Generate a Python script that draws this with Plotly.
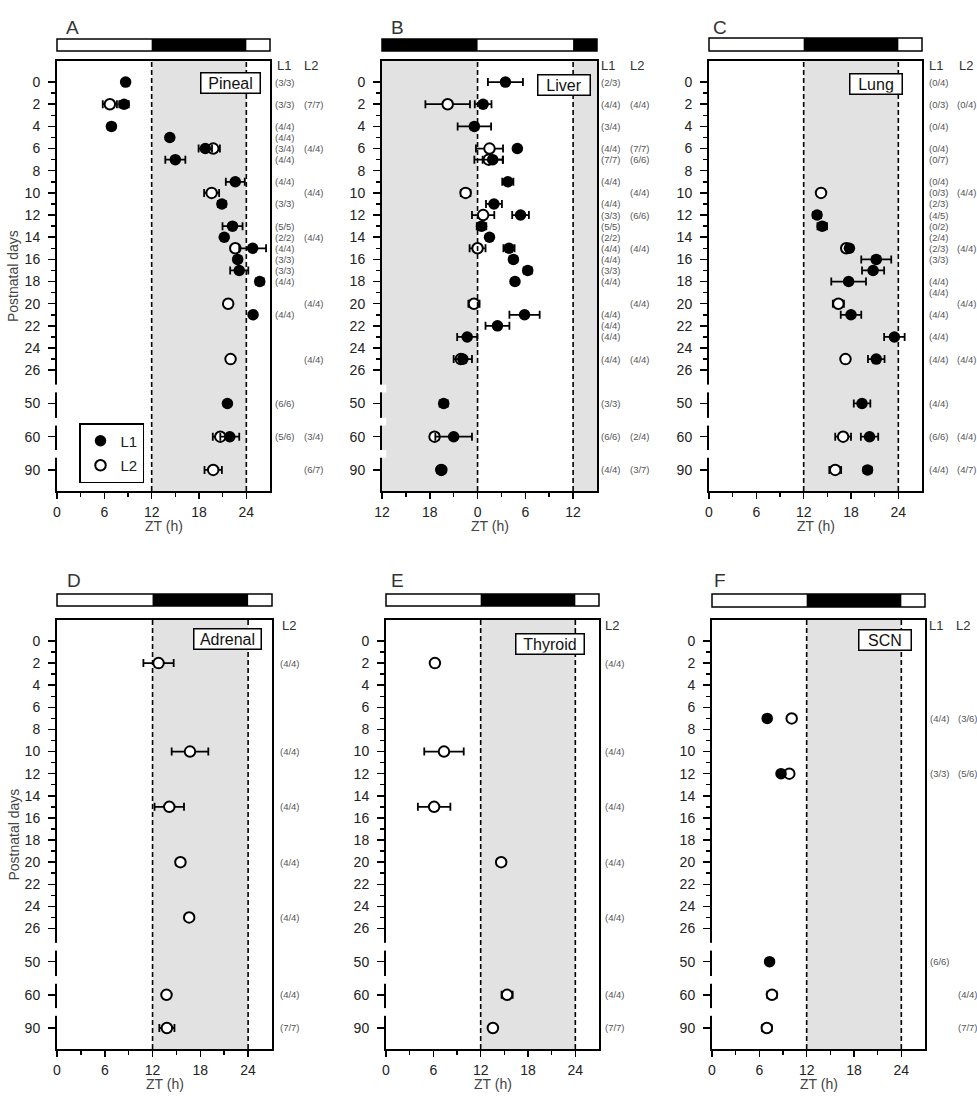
import plotly.graph_objects as go

W, H = 977, 1099
FONT = "Liberation Sans, Arial, sans-serif"


def PX(x):
    return x / W


def PY(y):
    return 1 - y / H


# ---------------- data (postnatal day, peak time ZT h, SEM) ----------------
A_L1_day = [0, 2, 4, 5, 6, 7, 9, 11, 13, 14, 15, 16, 17, 18, 21, 50, 60]
A_L1_zt = [8.7, 8.5, 6.9, 14.3, 18.8, 15.0, 22.6, 20.9, 22.25, 21.2, 24.8, 22.9, 23.1, 25.7, 24.85, 21.6, 21.9]
A_L1_err = [0.3, 0.6, 0.4, 0, 0.85, 1.27, 1.2, 0.5, 1.27, 0, 1.7, 0, 1.15, 0.5, 0.4, 0, 1.2]
A_L2_day = [2, 6, 10, 15, 20, 25, 60, 90]
A_L2_zt = [6.7, 19.8, 19.6, 22.6, 21.7, 22.0, 20.7, 19.8]
A_L2_err = [0.9, 0.85, 0.95, 0, 0, 0, 0.95, 1.1]

B_L1_day = [0, 2, 4, 6, 7, 9, 11, 12, 13, 14, 15, 16, 17, 18, 21, 22, 23, 25, 50, 60, 90]
B_L1_zt = [3.5, 0.7, -0.4, 5.0, 1.9, 3.8, 2.06, 5.4, 0.5, 1.5, 3.95, 4.5, 6.3, 4.7, 5.9, 2.5, -1.3, -1.85, -4.25, -3.0, -4.55]
B_L1_err = [2.2, 1.05, 2.1, 0, 1.26, 0.7, 1.0, 1.05, 0.6, 0, 0.7, 0, 0.5, 0.4, 1.9, 1.5, 1.26, 1.15, 0.5, 2.3, 0.5]
B_L2_day = [2, 6, 7, 10, 12, 15, 20, 25, 60, 90]
B_L2_zt = [-3.75, 1.5, 1.4, -1.5, 0.7, 0.0, -0.45, -2.1, -5.4, -4.55]
B_L2_err = [2.8, 1.7, 1.8, 0.6, 1.4, 1.0, 0.7, 0.5, 0.5, 0.4]

C_L1_day = [12, 13, 15, 16, 17, 18, 21, 23, 25, 50, 60, 90]
C_L1_zt = [13.7, 14.35, 17.8, 21.2, 20.8, 17.7, 18.0, 23.5, 21.2, 19.4, 20.35, 20.1]
C_L1_err = [0.5, 0.6, 0.3, 1.9, 1.4, 2.2, 1.3, 1.3, 1.05, 1.05, 1.1, 0.5]
C_L2_day = [10, 15, 20, 25, 60, 90]
C_L2_zt = [14.2, 17.4, 16.4, 17.3, 17.0, 16.0]
C_L2_err = [0.3, 0.3, 0.7, 0, 1.0, 0.75]

D_L2_day = [2, 10, 15, 20, 25, 60, 90]
D_L2_zt = [12.75, 16.7, 14.1, 15.5, 16.6, 13.75, 13.8]
D_L2_err = [1.9, 2.3, 1.85, 0.5, 0, 0, 0.95]

E_L2_day = [2, 10, 15, 20, 60, 90]
E_L2_zt = [6.2, 7.35, 6.1, 14.6, 15.35, 13.55]
E_L2_err = [0.5, 2.5, 2.06, 0.5, 0.7, 0]

F_L1_day = [7, 12, 50]
F_L1_zt = [7.0, 8.75, 7.3]
F_L1_err = [0, 0.3, 0]
F_L2_day = [7, 12, 60, 90]
F_L2_zt = [10.1, 9.8, 7.6, 6.95]
F_L2_err = [0, 0.4, 0.6, 0.6]

# n labels (responders / total)
A_n_L1 = [(0, "3/3"), (2, "3/3"), (4, "4/4"), (5, "4/4"), (6, "3/4"), (7, "4/4"), (9, "4/4"), (11, "3/3"),
          (13, "5/5"), (14, "2/2"), (15, "4/4"), (16, "3/3"), (17, "3/3"), (18, "4/4"), (21, "4/4"),
          (50, "6/6"), (60, "5/6")]
A_n_L2 = [(2, "7/7"), (6, "4/4"), (10, "4/4"), (14, "4/4"), (20, "4/4"), (25, "4/4"), (60, "3/4"), (90, "6/7")]
B_n_L1 = [(0, "2/3"), (2, "4/4"), (4, "3/4"), (6, "4/4"), (7, "7/7"), (9, "4/4"), (11, "4/4"), (12, "3/3"),
          (13, "5/5"), (14, "2/2"), (15, "4/4"), (16, "4/4"), (17, "3/3"), (18, "4/4"), (21, "4/4"),
          (22, "4/4"), (23, "4/4"), (25, "4/4"), (50, "3/3"), (60, "6/6"), (90, "4/4")]
B_n_L2 = [(2, "4/4"), (6, "7/7"), (7, "6/6"), (10, "4/4"), (12, "6/6"), (15, "4/4"), (20, "4/4"), (25, "4/4"),
          (60, "2/4"), (90, "3/7")]
C_n_L1 = [(0, "0/4"), (2, "0/3"), (4, "0/4"), (6, "0/4"), (7, "0/7"), (9, "0/4"), (10, "0/3"), (11, "2/3"),
          (12, "4/5"), (13, "0/2"), (14, "2/4"), (15, "2/3"), (16, "3/3"), (18, "4/4"), (19, "4/4"),
          (21, "4/4"), (23, "4/4"), (25, "4/4"), (50, "4/4"), (60, "6/6"), (90, "4/4")]
C_n_L2 = [(2, "0/4"), (10, "4/4"), (15, "4/4"), (20, "4/4"), (25, "4/4"), (60, "4/4"), (90, "4/7")]
D_n_L2 = [(2, "4/4"), (10, "4/4"), (15, "4/4"), (20, "4/4"), (25, "4/4"), (60, "4/4"), (90, "7/7")]
E_n_L2 = [(2, "4/4"), (10, "4/4"), (15, "4/4"), (20, "4/4"), (25, "4/4"), (60, "4/4"), (90, "7/7")]
F_n_L1 = [(7, "4/4"), (12, "3/3"), (50, "6/6")]
F_n_L2 = [(7, "3/6"), (12, "5/6"), (60, "4/4"), (90, "7/7")]

YTICK_DAYS = list(range(0, 27, 2)) + [50, 60, 90]
YMINOR_DAYS = list(range(1, 27, 2))
BREAK = {50: 29, 60: 32, 90: 35}   # broken-axis positions


def ypos(days):
    return [BREAK.get(d, d) for d in days]


STD_TICKS = ([0, 6, 12, 18, 24], ["0", "6", "12", "18", "24"], [3, 9, 15, 21])
LIVER_TICKS = ([-12, -6, 0, 6, 12], ["12", "18", "0", "6", "12"], [-9, -3, 3, 9])

panels = [
    dict(letter="A", organ="Pineal", box=(57, 270, 61, 491), bar=(39, 51), xr=(0, 27), dark=[(12, 24)],
         dashed=[12, 24], ticks=STD_TICKS, L1=(A_L1_day, A_L1_zt, A_L1_err), L2=(A_L2_day, A_L2_zt, A_L2_err),
         ncols=[(273, A_n_L1), (302, A_n_L2)], heads=[("L1", 284), ("L2", 311)],
         letter_pos=(72, 28), organ_box=(261, 72, 61), ytitle=True),
    dict(letter="B", organ="Liver", box=(382, 597, 61, 491), bar=(39, 51), xr=(-12, 15), dark=[(-12, 0), (12, 15)],
         dashed=[0, 12], ticks=LIVER_TICKS, L1=(B_L1_day, B_L1_zt, B_L1_err), L2=(B_L2_day, B_L2_zt, B_L2_err),
         ncols=[(599, B_n_L1), (628, B_n_L2)], heads=[("L1", 608), ("L2", 637)],
         letter_pos=(397, 28), organ_box=(591, 74, 54), ytitle=False),
    dict(letter="C", organ="Lung", box=(709, 922, 61, 491), bar=(38, 51), xr=(0, 27), dark=[(12, 24)],
         dashed=[12, 24], ticks=STD_TICKS, L1=(C_L1_day, C_L1_zt, C_L1_err), L2=(C_L2_day, C_L2_zt, C_L2_err),
         ncols=[(927, C_n_L1), (955, C_n_L2)], heads=[("L1", 936), ("L2", 966)],
         letter_pos=(720, 28), organ_box=(903, 73, 54), ytitle=False),
    dict(letter="D", organ="Adrenal", box=(57, 272, 620, 1049), bar=(594, 606), xr=(0, 27), dark=[(12, 24)],
         dashed=[12, 24], ticks=STD_TICKS, L1=None, L2=(D_L2_day, D_L2_zt, D_L2_err),
         ncols=[(278, D_n_L2)], heads=[("L2", 289)],
         letter_pos=(74, 580), organ_box=(262, 628, 69), ytitle=True),
    dict(letter="E", organ="Thyroid", box=(386, 599, 620, 1049), bar=(594, 606), xr=(0, 27), dark=[(12, 24)],
         dashed=[12, 24], ticks=STD_TICKS, L1=None, L2=(E_L2_day, E_L2_zt, E_L2_err),
         ncols=[(603, E_n_L2)], heads=[("L2", 612)],
         letter_pos=(397, 580), organ_box=(585, 633, 70), ytitle=False),
    dict(letter="F", organ="SCN", box=(712, 925, 620, 1049), bar=(594, 607), xr=(0, 27), dark=[(12, 24)],
         dashed=[12, 24], ticks=STD_TICKS, L1=(F_L1_day, F_L1_zt, F_L1_err), L2=(F_L2_day, F_L2_zt, F_L2_err),
         ncols=[(928, F_n_L1), (956, F_n_L2)], heads=[("L1", 936), ("L2", 963)],
         letter_pos=(720, 580), organ_box=(912, 629, 54), ytitle=False),
]

fig = go.Figure()
layout = dict(width=W, height=H, margin=dict(l=0, r=0, t=0, b=0, autoexpand=False), paper_bgcolor="white",
              plot_bgcolor="rgba(0,0,0,0)", font=dict(family=FONT, color="#222"))
shapes, annots = [], []
AX_COL = "black"

for i, p in enumerate(panels, start=1):
    sfx = "" if i == 1 else str(i)
    xref, yref = "x" + sfx, "y" + sfx
    x0, x1, y0, y1 = p["box"]
    tv, tt, mv = p["ticks"]
    layout["xaxis" + sfx] = dict(
        domain=[PX(x0), PX(x1)], range=list(p["xr"]), anchor=yref, tickmode="array", tickvals=tv, ticktext=tt,
        ticks="outside", ticklen=6, tickwidth=1.5, tickcolor=AX_COL, showline=True, linewidth=2,
        linecolor=AX_COL, mirror=True, showgrid=False, zeroline=False, ticklabelstandoff=1, automargin=False,
        tickfont=dict(size=14, color="#222", family=FONT),
        minor=dict(tickmode="array", tickvals=mv, ticks="outside", ticklen=4, tickwidth=1.5, tickcolor=AX_COL,
                   showgrid=False),
        fixedrange=True)
    layout["yaxis" + sfx] = dict(
        domain=[PY(y1), PY(y0)], range=[36.9, -1.9], anchor=xref, tickmode="array",
        tickvals=ypos(YTICK_DAYS), ticktext=[str(d) for d in YTICK_DAYS],
        ticks="outside", ticklen=7, tickwidth=1.5, tickcolor=AX_COL, showline=True, linewidth=2,
        linecolor=AX_COL, mirror=True, showgrid=False, zeroline=False, ticklabelstandoff=5, automargin=False,
        tickfont=dict(size=14, color="#222", family=FONT),
        minor=dict(tickmode="array", tickvals=YMINOR_DAYS, ticks="outside", ticklen=4, tickwidth=1.5,
                   tickcolor=AX_COL, showgrid=False),
        fixedrange=True)

    # dark-phase shading and dashed phase lines
    for a, b in p["dark"]:
        shapes.append(dict(type="rect", xref=xref, yref=yref + " domain", x0=a, x1=b, y0=0, y1=1,
                           fillcolor="#e2e2e2", line=dict(width=0), layer="below"))
    for v in p["dashed"]:
        shapes.append(dict(type="line", xref=xref, yref=yref + " domain", x0=v, x1=v, y0=0, y1=1,
                           line=dict(color="black", width=1.6, dash="5px,3px"), layer="above"))
    # axis breaks
    for g0, g1 in [(27.3, 28.0), (30.3, 31.0), (33.2, 33.9)]:
        shapes.append(dict(type="rect", xref=xref + " domain", yref=yref, x0=-0.03, x1=0.02, y0=g0, y1=g1,
                           fillcolor="white", line=dict(width=0), layer="above"))
    # light/dark bar
    hgt = y1 - y0
    by0 = (y1 - p["bar"][1]) / hgt
    by1 = (y1 - p["bar"][0]) / hgt
    shapes.append(dict(type="rect", xref=xref + " domain", yref=yref + " domain", x0=0, x1=1, y0=by0, y1=by1,
                       fillcolor="white", line=dict(width=0), layer="above"))
    for a, b in p["dark"]:
        shapes.append(dict(type="rect", xref=xref, yref=yref + " domain", x0=a, x1=b, y0=by0, y1=by1,
                           fillcolor="black", line=dict(width=0), layer="above"))
    shapes.append(dict(type="rect", xref=xref + " domain", yref=yref + " domain", x0=0, x1=1, y0=by0, y1=by1,
                       fillcolor="rgba(0,0,0,0)", line=dict(color="black", width=1.5), layer="above"))

    # traces: open (L2) first, filled (L1) on top
    if p["L2"]:
        d, z, e = p["L2"]
        fig.add_trace(go.Scatter(
            x=z, y=ypos(d), xaxis=xref, yaxis=yref, mode="markers", name="L2", legendgroup="L2",
            legendrank=2, showlegend=(i == 1), cliponaxis=False,
            marker=dict(symbol="circle", size=10.5, color="white", line=dict(color="black", width=2)),
            error_x=dict(type="data", array=e, color="black", thickness=1.8, width=4)))
    if p["L1"]:
        d, z, e = p["L1"]
        fig.add_trace(go.Scatter(
            x=z, y=ypos(d), xaxis=xref, yaxis=yref, mode="markers", name="L1", legendgroup="L1",
            legendrank=1, showlegend=(i == 1), cliponaxis=False,
            marker=dict(symbol="circle", size=11.5, color="black", line=dict(color="black", width=0)),
            error_x=dict(type="data", array=e, color="black", thickness=1.8, width=4)))

    # n labels
    for cx, lst in p["ncols"]:
        for day, txt in lst:
            annots.append(dict(xref="paper", yref=yref, x=PX(cx), y=BREAK.get(day, day), xanchor="left",
                               yanchor="middle", text="(" + txt + ")", showarrow=False,
                               font=dict(size=9.5, color="#555", family=FONT)))
    for txt, hx in p["heads"]:
        annots.append(dict(xref="paper", yref="paper", x=PX(hx), y=PY(y0 + 5), xanchor="center",
                           yanchor="middle", text=txt, showarrow=False, font=dict(size=13, color="#333", family=FONT)))
    # panel letter
    lx, ly = p["letter_pos"]
    annots.append(dict(xref="paper", yref="paper", x=PX(lx), y=PY(ly), xanchor="center", yanchor="middle",
                       text=p["letter"], showarrow=False, font=dict(size=19, color="#333", family=FONT)))
    # organ label box
    ox, oy, ow = p["organ_box"]
    annots.append(dict(xref="paper", yref="paper", x=PX(ox), y=PY(oy), xanchor="right", yanchor="top",
                       text=p["organ"], showarrow=False, bgcolor="white", bordercolor="black", borderwidth=1.5,
                       borderpad=1, width=ow - 5, align="center", font=dict(size=16, color="#111", family=FONT)))
    # axis titles
    annots.append(dict(xref="paper", yref="paper", x=PX((x0 + x1) / 2), y=PY(y1 + 35), xanchor="center",
                       yanchor="middle", text="ZT (h)", showarrow=False, font=dict(size=14, color="#444", family=FONT)))
    if p["ytitle"]:
        annots.append(dict(xref="paper", yref="paper", x=PX(13), y=PY((y0 + y1) / 2), xanchor="center",
                           yanchor="middle", text="Postnatal days", textangle=-90, showarrow=False,
                           font=dict(size=14, color="#444", family=FONT)))

layout["shapes"] = shapes
layout["annotations"] = annots
layout["showlegend"] = True
layout["legend"] = dict(x=PX(79), y=PY(423), xanchor="left", yanchor="top", bgcolor="white",
                        bordercolor="black", borderwidth=1.5, font=dict(size=15, color="#222", family=FONT),
                        tracegroupgap=2, itemwidth=30)
fig.update_layout(**layout)
# remove the browser's default 8px body margin so the figure sits at the page origin
fig.write_html("out.html", config={"displayModeBar": False, "staticPlot": True},
               post_script="document.body.style.margin='0';document.body.style.overflow='hidden';")
